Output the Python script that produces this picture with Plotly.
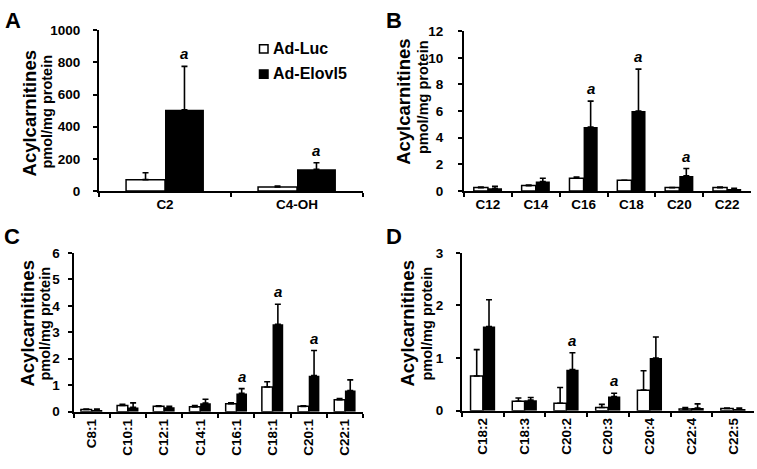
import plotly.graph_objects as go

W, H = 757, 469

# ---------------- data ----------------
series_names = ["Ad-Luc", "Ad-Elovl5"]

a_cats = ["C2", "C4-OH"]
a_luc = [70, 25]
a_luc_err = [43, 6]
a_elo = [505, 135]
a_elo_err = [270, 40]
a_sig = [True, True]

b_cats = ["C12", "C14", "C16", "C18", "C20", "C22"]
b_luc = [0.25, 0.4, 0.95, 0.8, 0.25, 0.25]
b_luc_err = [0.05, 0.05, 0.1, 0.0, 0.0, 0.05]
b_elo = [0.2, 0.7, 4.8, 6.0, 1.13, 0.15]
b_elo_err = [0.15, 0.25, 1.95, 3.15, 0.55, 0.05]
b_sig = [False, False, True, True, True, False]

c_cats = ["C8:1", "C10:1", "C12:1", "C14:1", "C16:1", "C18:1", "C20:1", "C22:1"]
c_luc = [0.08, 0.23, 0.2, 0.18, 0.3, 0.93, 0.2, 0.45]
c_luc_err = [0.02, 0.05, 0.02, 0.05, 0.03, 0.2, 0.02, 0.04]
c_elo = [0.05, 0.16, 0.17, 0.32, 0.69, 3.3, 1.36, 0.8]
c_elo_err = [0.05, 0.17, 0.03, 0.15, 0.18, 0.76, 0.95, 0.4]
c_sig = [False, False, False, False, True, True, True, False]

d_cats = ["C18:2", "C18:3", "C20:2", "C20:3", "C20:4", "C22:4", "C22:5"]
d_luc = [0.66, 0.18, 0.14, 0.06, 0.39, 0.03, 0.04]
d_luc_err = [0.5, 0.06, 0.3, 0.06, 0.37, 0.03, 0.01]
d_elo = [1.6, 0.2, 0.78, 0.27, 1.0, 0.05, 0.03]
d_elo_err = [0.51, 0.05, 0.32, 0.06, 0.4, 0.08, 0.02]
d_sig = [False, False, True, True, False, False, False]

y_ranges = {"A": [0, 1000], "B": [0, 12], "C": [0, 6], "D": [0, 3]}
y_dticks = {"A": 200, "B": 2, "C": 1, "D": 1}
panel_labels = ["A", "B", "C", "D"]
y_title = "Acylcarnitines"
y_subtitle = "pmol/mg protein"
sig_mark = "a"

# ---------------- layout geometry (pixels) ----------------
FONT = "Liberation Sans, Arial, sans-serif"
BARGAP = 0.41

def px_x(p):
    return p / W

def px_y(p):
    return 1 - p / H

panels = {
    "A": dict(cats=a_cats, luc=a_luc, le=a_luc_err, elo=a_elo, ee=a_elo_err, sig=a_sig,
              xd=[99, 363], yd=[190, 24], rot=False, so=10,
              lab=(13, 14), t1=(29, 110), t2=(47, 108)),
    "B": dict(cats=b_cats, luc=b_luc, le=b_luc_err, elo=b_elo, ee=b_elo_err, sig=b_sig,
              xd=[464, 751], yd=[190, 25], rot=False, so=12,
              lab=(394, 14), t1=(404, 98), t2=(423, 93)),
    "C": dict(cats=c_cats, luc=c_luc, le=c_luc_err, elo=c_elo, ee=c_elo_err, sig=c_sig,
              xd=[73.5, 363], yd=[418, 254], rot=True, so=5,
              lab=(12, 237), t1=(28, 327), t2=(45, 327)),
    "D": dict(cats=d_cats, luc=d_luc, le=d_luc_err, elo=d_elo, ee=d_elo_err, sig=d_sig,
              xd=[462, 754], yd=[417, 254], rot=True, so=10,
              lab=(394, 237), t1=(408, 327), t2=(427, 327)),
}

fig = go.Figure()
annotations = []
layout_axes = {}

for i, key in enumerate(panel_labels):
    p = panels[key]
    sfx = "" if i == 0 else str(i + 1)
    xa, ya = "x" + sfx, "y" + sfx
    n = len(p["cats"])

    fig.add_trace(go.Bar(
        x=p["cats"], y=p["luc"], name=series_names[0], xaxis=xa, yaxis=ya,
        marker=dict(color="white", line=dict(color="black", width=1.5)),
        error_y=dict(type="data", array=p["le"], arrayminus=[0] * n, symmetric=False,
                     color="black", thickness=1.6, width=3),
        offsetgroup="luc", showlegend=False,
    ))
    fig.add_trace(go.Bar(
        x=p["cats"], y=p["elo"], name=series_names[1], xaxis=xa, yaxis=ya,
        marker=dict(color="black", line=dict(color="black", width=0)),
        error_y=dict(type="data", array=p["ee"], arrayminus=[0] * n, symmetric=False,
                     color="black", thickness=1.6, width=3),
        offsetgroup="elo", showlegend=False,
    ))

    layout_axes["xaxis" + sfx] = dict(
        domain=[px_x(p["xd"][0]), px_x(p["xd"][1])], anchor=ya,
        type="category", categoryorder="array", categoryarray=p["cats"],
        showline=True, linecolor="black", linewidth=2,
        ticks="outside", tickson="boundaries", ticklen=4, tickwidth=2, tickcolor="black",
        tickangle=-90 if p["rot"] else 0,
        tickfont=dict(family=FONT, size=13.5, color="black", weight="bold"),
        showgrid=False, zeroline=False, fixedrange=True,
    )
    layout_axes["yaxis" + sfx] = dict(
        domain=[px_y(p["yd"][0]), px_y(p["yd"][1])], anchor=xa,
        range=y_ranges[key], dtick=y_dticks[key], tick0=0,
        showline=True, linecolor="black", linewidth=2,
        ticks="outside", ticklen=4, tickwidth=2, tickcolor="black",
        ticklabelstandoff=p["so"],
        tickfont=dict(family=FONT, size=13.5, color="black", weight="bold"),
        showgrid=False, zeroline=False, fixedrange=True,
    )

    # significance marks above Elovl5 bars
    off = (1 - BARGAP) / 4
    for j, s in enumerate(p["sig"]):
        if s:
            annotations.append(dict(
                x=j + off, y=p["elo"][j] + p["ee"][j], xref=xa, yref=ya,
                text=sig_mark, showarrow=False, yanchor="bottom", yshift=2,
                font=dict(family=FONT, size=15, color="black", style="italic", weight="bold"),
            ))

    # panel letter
    annotations.append(dict(
        x=px_x(p["lab"][0]), y=px_y(p["lab"][1]), xref="paper", yref="paper",
        text=key, showarrow=False, xanchor="center", yanchor="middle",
        font=dict(family=FONT, size=22, color="black", weight="bold"),
    ))
    # y titles
    annotations.append(dict(
        x=px_x(p["t1"][0]), y=px_y(p["t1"][1]), xref="paper", yref="paper",
        text=y_title, textangle=-90, showarrow=False, xanchor="center", yanchor="middle",
        font=dict(family=FONT, size=18.5, color="black", weight="bold"),
    ))
    annotations.append(dict(
        x=px_x(p["t2"][0]), y=px_y(p["t2"][1]), xref="paper", yref="paper",
        text=y_subtitle, textangle=-90, showarrow=False, xanchor="center", yanchor="middle",
        font=dict(family=FONT, size=14.5, color="black", weight="bold"),
    ))

# manual legend (panel A)
legend_items = [(series_names[0], "white", 43), (series_names[1], "black", 69)]
shapes = []
for name, col, cy in legend_items:
    shapes.append(dict(type="rect", xref="paper", yref="paper",
                       x0=px_x(259.5), x1=px_x(268), y0=px_y(cy + 4.5), y1=px_y(cy - 4),
                       fillcolor=col, line=dict(color="black", width=1.5)))
    annotations.append(dict(
        x=px_x(271), y=px_y(cy), xref="paper", yref="paper", text=name,
        showarrow=False, xanchor="left", yanchor="middle",
        font=dict(family=FONT, size=16, color="black", weight="bold"),
    ))

fig.update_layout(
    width=W, height=H,
    margin=dict(l=0, r=0, t=0, b=0),
    paper_bgcolor="white", plot_bgcolor="white",
    barmode="group", bargap=BARGAP, bargroupgap=0,
    annotations=annotations, shapes=shapes,
    showlegend=False,
    font=dict(family=FONT, color="black"),
    **layout_axes,
)

fig.write_html("out.html", config={"displayModeBar": False},
               post_script="document.body.style.margin='0px';document.body.style.overflow='hidden';")
